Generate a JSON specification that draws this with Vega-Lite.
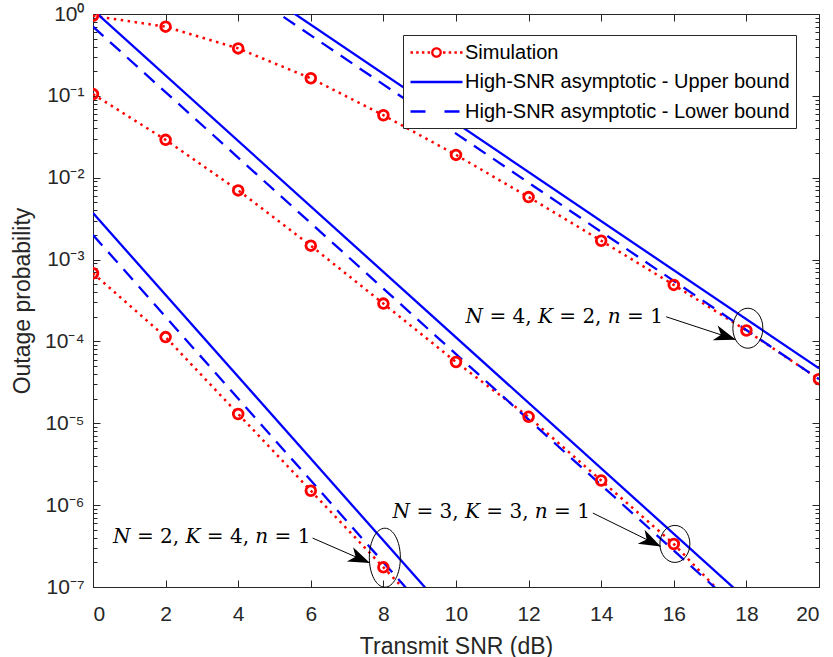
{
  "$schema": "https://vega.github.io/schema/vega-lite/v6.json",
  "width": 726,
  "height": 573,
  "autosize": {"type": "none"},
  "padding": {"left": 93, "top": 14, "right": 14, "bottom": 70},
  "config": {
    "view": {"stroke": null},
    "font": "Liberation Sans",
    "axis": {
      "grid": false,
      "domainColor": "#262626",
      "tickColor": "#262626",
      "labelColor": "#262626",
      "titleColor": "#262626",
      "labelFont": "Liberation Sans",
      "titleFont": "Liberation Sans",
      "labelFontSize": 21,
      "titleFontSize": 23,
      "titleFontWeight": "normal",
      "domainWidth": 1,
      "tickWidth": 1
    }
  },
  "datasets": {
    "sim": [
      {"snr": 0, "p": 0.95, "set": "A", "type": "Simulation"},
      {"snr": 2, "p": 0.70, "set": "A", "type": "Simulation"},
      {"snr": 4, "p": 0.38, "set": "A", "type": "Simulation"},
      {"snr": 6, "p": 0.164, "set": "A", "type": "Simulation"},
      {"snr": 8, "p": 0.058, "set": "A", "type": "Simulation"},
      {"snr": 10, "p": 0.019, "set": "A", "type": "Simulation"},
      {"snr": 12, "p": 0.0058, "set": "A", "type": "Simulation"},
      {"snr": 14, "p": 0.0017, "set": "A", "type": "Simulation"},
      {"snr": 16, "p": 0.00049, "set": "A", "type": "Simulation"},
      {"snr": 18, "p": 0.000136, "set": "A", "type": "Simulation"},
      {"snr": 20, "p": 0.0000346, "set": "A", "type": "Simulation"},
      {"snr": 0, "p": 0.105, "set": "B", "type": "Simulation"},
      {"snr": 2, "p": 0.029, "set": "B", "type": "Simulation"},
      {"snr": 4, "p": 0.007, "set": "B", "type": "Simulation"},
      {"snr": 6, "p": 0.00148, "set": "B", "type": "Simulation"},
      {"snr": 8, "p": 0.00029, "set": "B", "type": "Simulation"},
      {"snr": 10, "p": 0.000056, "set": "B", "type": "Simulation"},
      {"snr": 12, "p": 0.000012, "set": "B", "type": "Simulation"},
      {"snr": 14, "p": 0.000002, "set": "B", "type": "Simulation"},
      {"snr": 16, "p": 3.35e-7, "set": "B", "type": "Simulation"},
      {"snr": 18, "p": 4e-8, "set": "B", "type": "Simulation"},
      {"snr": 0, "p": 0.00068, "set": "C", "type": "Simulation"},
      {"snr": 2, "p": 0.000113, "set": "C", "type": "Simulation"},
      {"snr": 4, "p": 0.000013, "set": "C", "type": "Simulation"},
      {"snr": 6, "p": 0.0000015, "set": "C", "type": "Simulation"},
      {"snr": 8, "p": 1.74e-7, "set": "C", "type": "Simulation"},
      {"snr": 10, "p": 2e-8, "set": "C", "type": "Simulation"}
    ],
    "upper": [
      {"snr": 0, "p": 46.6, "set": "A", "type": "High-SNR asymptotic - Upper bound"},
      {"snr": 20, "p": 0.0000468, "set": "A", "type": "High-SNR asymptotic - Upper bound"},
      {"snr": 0, "p": 1.12, "set": "B", "type": "High-SNR asymptotic - Upper bound"},
      {"snr": 20, "p": 1.12e-8, "set": "B", "type": "High-SNR asymptotic - Upper bound"},
      {"snr": 0, "p": 0.0037, "set": "C", "type": "High-SNR asymptotic - Upper bound"},
      {"snr": 20, "p": 3.7e-13, "set": "C", "type": "High-SNR asymptotic - Upper bound"}
    ],
    "lower": [
      {"snr": 0, "p": 34.6, "set": "A", "type": "High-SNR asymptotic - Lower bound"},
      {"snr": 20, "p": 0.0000346, "set": "A", "type": "High-SNR asymptotic - Lower bound"},
      {"snr": 0, "p": 0.70, "set": "B", "type": "High-SNR asymptotic - Lower bound"},
      {"snr": 20, "p": 7e-9, "set": "B", "type": "High-SNR asymptotic - Lower bound"},
      {"snr": 0, "p": 0.0020, "set": "C", "type": "High-SNR asymptotic - Lower bound"},
      {"snr": 20, "p": 2e-13, "set": "C", "type": "High-SNR asymptotic - Lower bound"}
    ],
    "labels": [
      {"snr": 15.70, "p": 0.000169, "label": "𝑁 = 4, 𝐾 = 2, 𝑛 = 1"},
      {"snr": 13.69, "p": 6.95e-7, "label": "𝑁 = 3, 𝐾 = 3, 𝑛 = 1"},
      {"snr": 5.99, "p": 3.44e-7, "label": "𝑁 = 2, 𝐾 = 4, 𝑛 = 1"}
    ],
    "arrows": [
      {"sx": 15.79, "sy": 0.000200, "tx": 17.71, "ty": 0.000105},
      {"sx": 13.77, "sy": 8.0e-7, "tx": 15.64, "ty": 3.13e-7},
      {"sx": 6.05, "sy": 3.96e-7, "tx": 7.63, "ty": 1.96e-7}
    ],
    "ellipses": [
      {"snr": 18.04, "p": 0.000145, "id": "a"},
      {"snr": 16.03, "p": 3.36e-7, "id": "b"},
      {"snr": 8.04, "p": 2.28e-7, "id": "c"}
    ]
  },
  "resolve": {"axis": {"x": "independent", "y": "independent"}},
  "layer": [
    {
      "data": {"name": "sim"},
      "mark": {"type": "line", "clip": true, "strokeDash": [2.5, 4.5], "strokeWidth": 2.5},
      "encoding": {
        "x": {
          "field": "snr", "type": "quantitative",
          "scale": {"domain": [0, 20], "nice": false, "zero": false},
          "axis": {
            "orient": "bottom", "values": [0, 2, 4, 6, 8, 10, 12, 14, 16, 18, 20],
            "tickSize": -7, "labelPadding": 23, "title": "Transmit SNR (dB)", "titlePadding": 11
          }
        },
        "y": {
          "field": "p", "type": "quantitative",
          "scale": {"type": "log", "domain": [1e-7, 1], "nice": false},
          "axis": {
            "orient": "left",
            "values": [1e-7, 2e-7, 3e-7, 4e-7, 5e-7, 6e-7, 7e-7, 8e-7, 9e-7,
                       1e-6, 2e-6, 3e-6, 4e-6, 5e-6, 6e-6, 7e-6, 8e-6, 9e-6,
                       1e-5, 2e-5, 3e-5, 4e-5, 5e-5, 6e-5, 7e-5, 8e-5, 9e-5,
                       1e-4, 2e-4, 3e-4, 4e-4, 5e-4, 6e-4, 7e-4, 8e-4, 9e-4,
                       1e-3, 2e-3, 3e-3, 4e-3, 5e-3, 6e-3, 7e-3, 8e-3, 9e-3,
                       1e-2, 2e-2, 3e-2, 4e-2, 5e-2, 6e-2, 7e-2, 8e-2, 9e-2,
                       1e-1, 2e-1, 3e-1, 4e-1, 5e-1, 6e-1, 7e-1, 8e-1, 9e-1, 1],
            "tickSize": {"condition": {"test": "abs(log(datum.value)/LN10 - round(log(datum.value)/LN10)) < 1e-6", "value": -7}, "value": -4},
            "labelExpr": "abs(log(datum.value)/LN10 - round(log(datum.value)/LN10)) < 1e-6 ? '10' + ['⁰','⁻¹','⁻²','⁻³','⁻⁴','⁻⁵','⁻⁶','⁻⁷'][-round(log(datum.value)/LN10)] : ''",
            "labelPadding": 16,
            "title": "Outage probability",
            "titlePadding": 10
          }
        },
        "detail": {"field": "set"},
        "color": {
          "field": "type", "type": "nominal",
          "scale": {
            "domain": ["Simulation", "High-SNR asymptotic - Upper bound", "High-SNR asymptotic - Lower bound"],
            "range": ["#ff0000", "#0000ff", "#0000ff"]
          },
          "legend": {
            "title": null,
            "orient": "none",
            "legendX": 310,
            "legendY": 21,
            "padding": 6,
            "strokeColor": "#262626",
            "fillColor": "#ffffff",
            "labelFont": "Liberation Sans",
            "labelFontSize": 20,
            "labelColor": "#000000",
            "labelLimit": 500,
            "labelOffset": 33,
            "rowPadding": 7.5,
            "symbolSize": 400,
            "symbolStrokeWidth": 2.3,
            "symbolType": "stroke",
            "encode": {
              "symbols": {
                "update": {
                  "shape": {"signal": "datum.value === 'Simulation' ? 'M-1,0L-0.75,0M-0.43,0L-0.18,0M0.14,0L0.39,0M0.71,0L0.96,0M2.25,0L2.5,0M2.82,0L3.07,0M3.39,0L3.64,0M3.95,0L4.2,0M2.02,0A0.42,0.42 0 1,1 1.18,0A0.42,0.42 0 1,1 2.02,0Z' : 'M-1,0L4.2,0'"},
                  "strokeDash": {"signal": "datum.value === 'High-SNR asymptotic - Lower bound' ? [15, 19] : [1, 0]"},
                  "fill": {"value": "transparent"},
                  "strokeWidth": {"value": 2.3}
                }
              }
            }
          }
        }
      }
    },
    {
      "data": {"name": "upper"},
      "mark": {"type": "line", "clip": true, "strokeWidth": 2.3},
      "encoding": {
        "x": {
          "field": "snr", "type": "quantitative",
          "axis": {"orient": "top", "values": [0, 2, 4, 6, 8, 10, 12, 14, 16, 18, 20], "tickSize": -7, "labels": false, "title": null}
        },
        "y": {
          "field": "p", "type": "quantitative",
          "axis": {
            "orient": "right",
            "values": [1e-7, 2e-7, 3e-7, 4e-7, 5e-7, 6e-7, 7e-7, 8e-7, 9e-7,
                       1e-6, 2e-6, 3e-6, 4e-6, 5e-6, 6e-6, 7e-6, 8e-6, 9e-6,
                       1e-5, 2e-5, 3e-5, 4e-5, 5e-5, 6e-5, 7e-5, 8e-5, 9e-5,
                       1e-4, 2e-4, 3e-4, 4e-4, 5e-4, 6e-4, 7e-4, 8e-4, 9e-4,
                       1e-3, 2e-3, 3e-3, 4e-3, 5e-3, 6e-3, 7e-3, 8e-3, 9e-3,
                       1e-2, 2e-2, 3e-2, 4e-2, 5e-2, 6e-2, 7e-2, 8e-2, 9e-2,
                       1e-1, 2e-1, 3e-1, 4e-1, 5e-1, 6e-1, 7e-1, 8e-1, 9e-1, 1],
            "tickSize": {"condition": {"test": "abs(log(datum.value)/LN10 - round(log(datum.value)/LN10)) < 1e-6", "value": -7}, "value": -4},
            "labels": false, "title": null
          }
        },
        "detail": {"field": "set"},
        "color": {"field": "type", "type": "nominal"}
      }
    },
    {
      "data": {"name": "lower"},
      "mark": {"type": "line", "clip": true, "strokeWidth": 2.3, "strokeDash": [14, 9]},
      "encoding": {
        "x": {"field": "snr", "type": "quantitative", "axis": null},
        "y": {"field": "p", "type": "quantitative", "axis": null},
        "detail": {"field": "set"},
        "color": {"field": "type", "type": "nominal"}
      }
    },
    {
      "data": {"name": "sim"},
      "mark": {"type": "point", "clip": true, "shape": "circle", "filled": false, "size": 94, "strokeWidth": 2.8, "color": "#ff0000", "opacity": 1},
      "encoding": {
        "x": {"field": "snr", "type": "quantitative", "axis": null},
        "y": {"field": "p", "type": "quantitative", "axis": null}
      }
    },
    {
      "data": {"name": "ellipses"},
      "mark": {"type": "point", "filled": false, "size": 3600, "strokeWidth": 1, "color": "#000000", "opacity": 1},
      "encoding": {
        "x": {"field": "snr", "type": "quantitative", "axis": null},
        "y": {"field": "p", "type": "quantitative", "axis": null},
        "shape": {
          "field": "id", "type": "nominal", "legend": null,
          "scale": {
            "domain": ["a", "b", "c"],
            "range": [
              "M-0.5,0A0.5,0.667 0 1,0 0.5,0A0.5,0.667 0 1,0 -0.5,0Z",
              "M-0.5,0A0.5,0.617 0 1,0 0.5,0A0.5,0.617 0 1,0 -0.5,0Z",
              "M-0.517,0A0.517,0.983 0 1,0 0.517,0A0.517,0.983 0 1,0 -0.517,0Z"
            ]
          }
        }
      }
    },
    {
      "data": {"name": "arrows"},
      "mark": {"type": "rule", "color": "#000000", "strokeWidth": 1},
      "encoding": {
        "x": {"field": "sx", "type": "quantitative", "axis": null},
        "y": {"field": "sy", "type": "quantitative", "axis": null},
        "x2": {"field": "tx"},
        "y2": {"field": "ty"}
      }
    },
    {
      "data": {"name": "arrows"},
      "mark": {
        "type": "point", "filled": true, "color": "#000000", "opacity": 1, "size": 1900, "strokeWidth": 0,
        "shape": "M0,0L-1,-0.36L-0.72,0L-1,0.36Z",
        "angle": {"expr": "atan2(scale('y', datum.ty) - scale('y', datum.sy), scale('x', datum.tx) - scale('x', datum.sx)) * 180 / PI"}
      },
      "encoding": {
        "x": {"field": "tx", "type": "quantitative", "axis": null},
        "y": {"field": "ty", "type": "quantitative", "axis": null}
      }
    },
    {
      "data": {"name": "labels"},
      "mark": {"type": "text", "align": "right", "baseline": "alphabetic", "font": "DejaVu Serif", "fontSize": 20, "color": "#000000"},
      "encoding": {
        "x": {"field": "snr", "type": "quantitative", "axis": null},
        "y": {"field": "p", "type": "quantitative", "axis": null},
        "text": {"field": "label"}
      }
    }
  ]
}
